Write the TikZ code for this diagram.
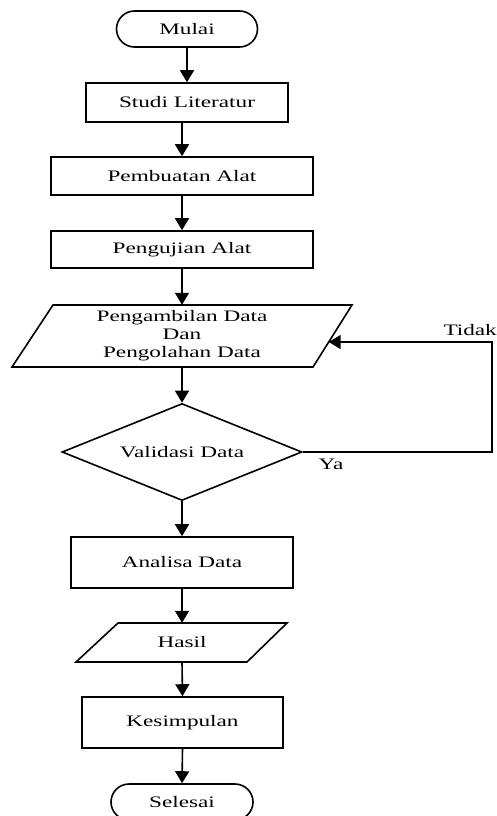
\documentclass[tikz,border=0pt]{standalone}
\usepackage{fontspec}
\setmainfont{Liberation Serif}[FakeStretch=1.45]
\usetikzlibrary{arrows.meta,shapes.geometric}
\begin{document}
\begin{tikzpicture}[x=1pt,y=-1pt,
  every node/.style={font=\fontsize{16}{18}\selectfont, inner sep=0pt},
  box/.style={draw, line width=1.6pt, minimum width=#1},
  term/.style={draw, line width=1.6pt, rounded corners=18pt, minimum width=#1, minimum height=36pt},
  flow/.style={line width=1.6pt, -{Triangle[width=14pt,length=12pt]}},
  shp/.style={draw, line width=1.6pt, line join=miter}
]
\useasboundingbox (0,0) rectangle (497,816);

\node[term=141pt] (mulai) at (187,29) {Mulai};
\node[box=202pt, minimum height=39pt] (studi) at (187,102.5) {Studi Literatur};
\node[box=262pt, minimum height=38pt] (buat) at (182,176) {Pembuatan Alat};
\node[box=262pt, minimum height=37pt] (uji) at (182,249.5) {Pengujian Alat};

% parallelogram: Pengambilan Data
\draw[shp] (53,305) -- (352,305) -- (313,367) -- (12,367) -- cycle;
\node[minimum width=200pt, minimum height=62pt, align=center] (ambil) at (182,336)
  {Pengambilan Data\\Dan\\Pengolahan Data};
\coordinate (ambilR) at (328.7,342);

\node[draw, line width=1.6pt, shape=diamond, aspect=2.47, minimum width=240pt, minimum height=97pt] (valid) at (182,452) {Validasi Data};

\node[box=222pt, minimum height=51pt] (analisa) at (182,562.5) {Analisa Data};

% parallelogram: Hasil
\draw[shp] (118,623) -- (287,623) -- (247,662) -- (76,662) -- cycle;
\node[minimum width=120pt, minimum height=39pt] (hasil) at (182,642.5) {Hasil};

\node[box=201pt, minimum height=51pt] (simpul) at (182.5,722.5) {Kesimpulan};
\node[term=142pt] (selesai) at (182,802) {Selesai};

\coordinate (loopA) at (492,452);
\coordinate (loopB) at (492,342);

\draw[flow] (mulai.south) -- (studi.north -| mulai.south);
\draw[flow] (studi.south -| buat.north) -- (buat.north);
\draw[flow] (buat.south) -- (uji.north);
\draw[flow] (uji.south) -- (ambil.north);
\draw[flow] (ambil.south) -- (valid.north);
\draw[flow] (valid.south) -- (analisa.north);
\draw[flow] (analisa.south) -- (hasil.north);
\draw[flow] (hasil.south) -- (simpul.north);
\draw[flow] (simpul.south) -- (selesai.north);
\draw[flow] (valid.east) -- (loopA) -- (loopB) -- (ambilR);

\node[anchor=east] (tidak) at (497,330) {Tidak};
\node (ya) at (331,464) {Ya};
\end{tikzpicture}
\end{document}
